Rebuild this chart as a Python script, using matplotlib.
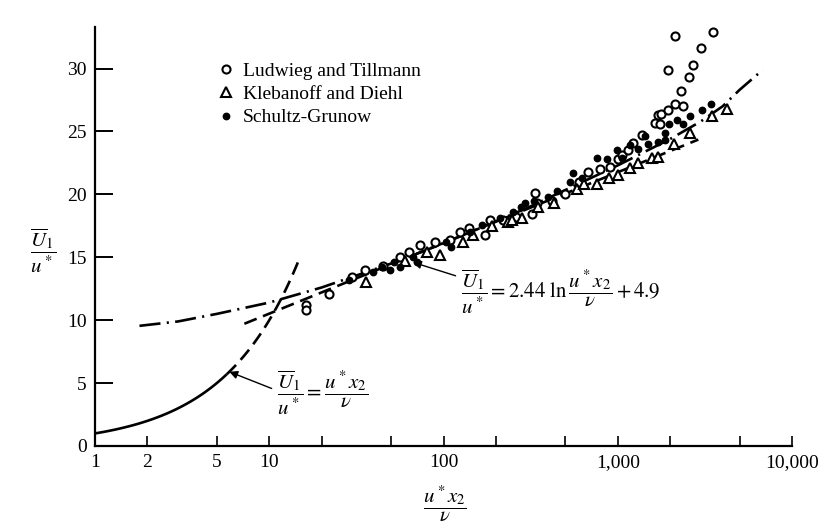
import numpy as np
import matplotlib
matplotlib.use("Agg")
import matplotlib.pyplot as plt
from matplotlib.ticker import FixedLocator, FixedFormatter, NullLocator

plt.rcParams['font.family'] = ['Liberation Serif', 'DejaVu Serif']
plt.rcParams['mathtext.fontset'] = 'stix'

# ---------------- data ----------------
ludwieg_x = [16.3, 16.3, 22, 30, 35.5, 45, 56, 63, 73.5, 89.6, 109, 125, 140, 173, 185,
             220, 260, 323, 335, 345, 420, 500, 600, 675, 790, 906, 1000, 1060, 1150,
             1230, 1380, 1640, 1700, 1750, 1770, 1950, 2140, 2370, 2300, 2560, 1950,
             2700, 3000, 2140, 3530]
ludwieg_y = [11.2, 10.8, 12.1, 13.4, 14.0, 14.3, 15.0, 15.4, 16.0, 16.2, 16.4, 17.0, 17.3,
             16.8, 18.0, 18.0, 18.2, 18.4, 20.1, 19.3, 19.5, 20.0, 21.0, 21.8, 22.0, 22.2,
             22.8, 23.1, 23.5, 24.1, 24.7, 25.7, 26.3, 25.6, 26.4, 26.7, 27.2, 27.0, 28.2,
             29.3, 29.9, 30.3, 31.6, 32.6, 32.9]

klebanoff_x = [36, 60, 80, 95.5, 130, 148, 190, 235, 248, 282, 350, 430, 584, 637, 763,
               890, 1000, 1180, 1310, 1580, 1700, 2100, 2600, 3480, 4240]
klebanoff_y = [13.0, 14.7, 15.4, 15.2, 16.2, 16.8, 17.5, 17.8, 18.0, 18.1, 19.0, 19.3,
               20.4, 20.8, 20.8, 21.3, 21.5, 22.1, 22.5, 22.9, 23.0, 24.0, 24.9, 26.2, 26.8]

schultz_x = [28.5, 39.5, 44.6, 49.4, 52, 56.5, 67, 70, 104, 110, 142, 166, 211, 250, 280,
             293, 330, 400, 450, 535, 555, 620, 763, 870, 995, 1060, 1180, 1300, 1440,
             1500, 1700, 1860, 1860, 1980, 2200, 2370, 2600, 3060, 3440]
schultz_y = [13.2, 13.8, 14.2, 14.0, 14.6, 14.2, 15.0, 14.6, 16.2, 15.8, 17.0, 17.6, 18.1,
             18.6, 19.0, 19.3, 19.5, 19.8, 20.3, 21.0, 21.7, 21.3, 22.9, 22.8, 23.5, 22.9,
             23.9, 23.6, 24.6, 24.0, 24.2, 24.9, 24.3, 25.6, 25.9, 25.6, 26.2, 26.7, 27.2]

# outer (dash-dot) curve
outer_x = [1.8, 3, 5, 10, 20, 50, 100, 300, 1000, 2000, 3000, 4000, 5000, 6800]
outer_y = [9.55, 9.9, 10.5, 11.4, 12.6, 14.5, 16.1, 18.9, 22.3, 24.4, 25.8, 27.0, 28.3, 29.9]

# equations printed on the chart
log_slope, log_const = 2.44, 4.9
sub_solid_range = (1.0, 5.7)
sub_dash_range = (5.7, 15.0)
log_range = (7.2, 2900.0)

x_ticks = [1, 2, 5, 10, 20, 50, 100, 200, 500, 1000, 2000, 5000, 10000]
x_ticklabels = ['1', '2', '5', '10', '', '', '100', '', '', '1,000', '', '', '10,000']
y_ticks = [0, 5, 10, 15, 20, 25, 30]

# ---------------- figure ----------------
W, H = 832, 524
fig = plt.figure(figsize=(W / 100, H / 100), dpi=100)
ax = fig.add_axes([95 / W, (H - 446) / H, (792 - 95) / W, (446 - 27) / H])
ax.set_xscale('log')
ax.set_xlim(1, 10000)
ax.set_ylim(0, 33.3)

lw = 1.9
xs = np.geomspace(*sub_solid_range, 100)
ax.plot(xs, xs, color='black', lw=lw, solid_capstyle='butt')
xd = np.geomspace(*sub_dash_range, 100)
ax.plot(xd, xd, color='black', lw=lw, dashes=(5, 2.6))
xl = np.geomspace(*log_range, 200)
ax.plot(xl, log_slope * np.log(xl) + log_const, color='black', lw=lw, dashes=(5, 2.6))
ax.plot(outer_x, outer_y, color='black', lw=lw, dashes=(8, 2.4, 0.8, 2.4))

h1, = ax.plot(ludwieg_x, ludwieg_y, 'o', ls='none', ms=5.8, mfc='white', mec='black', mew=1.5,
              label='Ludwieg and Tillmann')
h2, = ax.plot(klebanoff_x, klebanoff_y, '^', ls='none', ms=7.0, mfc='white', mec='black', mew=1.5,
              label='Klebanoff and Diehl')
h3, = ax.plot(schultz_x, schultz_y, 'o', ls='none', ms=4.6, mfc='black', mec='black',
              label='Schultz-Grunow')

ax.legend(handles=[h1, h2, h3], loc='upper left', frameon=False, fontsize=14,
          bbox_to_anchor=(216 / W, 1 - 62 / H), bbox_transform=fig.transFigure,
          borderpad=0, borderaxespad=0, handlelength=1.0, handletextpad=0.4,
          labelspacing=0.3)

# axes styling
for s in ['top', 'right']:
    ax.spines[s].set_visible(False)
for s in ['left', 'bottom']:
    ax.spines[s].set_linewidth(1.6)
ax.xaxis.set_major_locator(FixedLocator(x_ticks))
ax.xaxis.set_major_formatter(FixedFormatter(x_ticklabels))
ax.xaxis.set_minor_locator(NullLocator())
ax.set_yticks(y_ticks)
ax.tick_params(axis='x', direction='in', length=7, width=1.2, labelsize=14, pad=6)
ax.tick_params(axis='y', direction='in', length=13, width=1.4, labelsize=14, pad=6)

# axis labels (fractions)
fig.text(43 / W, 1 - 251 / H, r'$\dfrac{\overline{U}_1}{u^*}$', ha='center', va='center', fontsize=15)
fig.text(445 / W, 1 - 504 / H, r'$\dfrac{u^* x_2}{\nu}$', ha='center', va='center', fontsize=15)

# annotations
ax.annotate(r'$\dfrac{\overline{U}_1}{u^*} = \dfrac{u^* x_2}{\nu}$', xy=(5.9, 5.9),
            xytext=(277, H - 393), textcoords='figure pixels', ha='left', va='center',
            fontsize=15,
            arrowprops=dict(arrowstyle='-|>', color='black', lw=1.0, mutation_scale=12,
                            relpos=(0, 0.55), shrinkA=2, shrinkB=0))
ax.annotate(r'$\dfrac{\overline{U}_1}{u^*} = 2.44\ \mathrm{ln}\,\dfrac{u^* x_2}{\nu} + 4.9$',
            xy=(66.8, 14.6), xytext=(461, H - 292), textcoords='figure pixels',
            ha='left', va='center', fontsize=15,
            arrowprops=dict(arrowstyle='-|>', color='black', lw=1.0, mutation_scale=12,
                            relpos=(0, 0.8), shrinkA=2, shrinkB=0))

fig.savefig('out.png', dpi=100, facecolor='white')
